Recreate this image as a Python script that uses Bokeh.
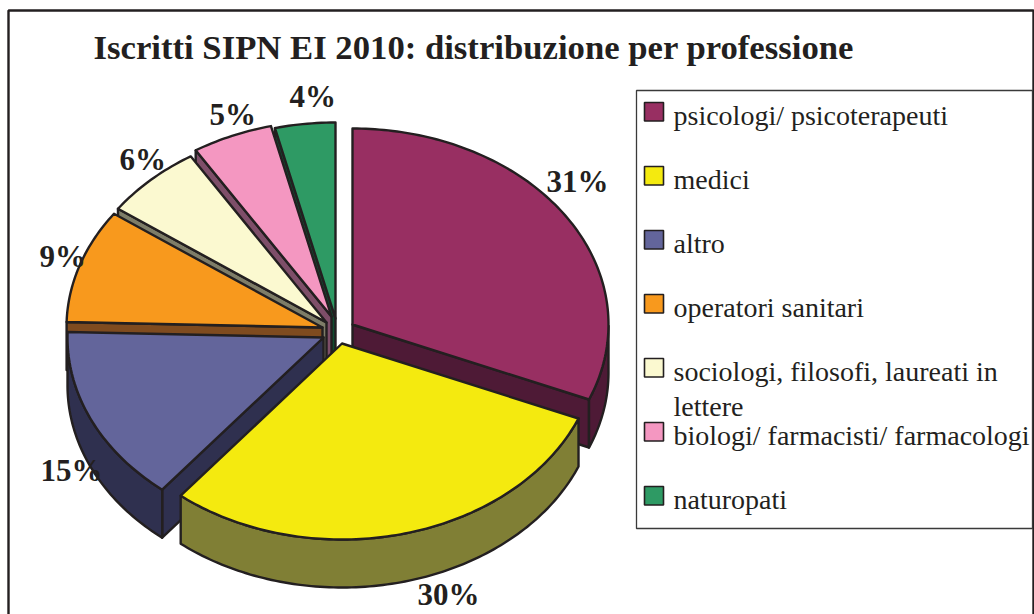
import math
from bokeh.plotting import figure
from bokeh.models import Range1d
from bokeh.core.properties import value
from bokeh.embed import file_html
from bokeh.resources import INLINE

TITLE = "Iscritti SIPN EI 2010: distribuzione per professione"
CATEGORIES = ["psicologi/ psicoterapeuti", "medici", "altro", "operatori sanitari",
              "sociologi, filosofi, laureati in\nlettere",
              "biologi/ farmacisti/ farmacologi", "naturopati"]
SHARES = [31.25, 29.6, 14.6, 9.4, 6.25, 5.1, 3.8]
LABELS = ["31%", "30%", "15%", "9%", "6%", "5%", "4%"]

# styles / layout
TOP = ["#982f62", "#f4ea0f", "#63659b", "#f8991d", "#fbf9d0", "#f497c1", "#2e9a64"]
WALL = ["#4e1a36", "#807f35", "#2f304f", "#7f4b1f", "#7e7d68", "#7e4e69", "#104d30"]
INK = "#231f20"
CX, CY = 336, 328
EXPLODE = [(16, -4), (5.5, 15), (-13, 9), (-14, -1), (-10, -6), (-5, -12), (-1, -10)]
RX, RY, DEPTH = 256, 196, 48
DRAW_ORDER = [6, 5, 4, 3, 2, 0, 1]
LABEL_POS = [(546, 191), (417, 604), (40, 480), (39, 266), (119, 169), (209, 124), (289, 106)]
TEXT_SHIFT = 0.33  # of the font size, for the text glyph's vertical placement

W, H = 1034, 614
p = figure(width=W, height=H, output_backend="svg", toolbar_location=None,
           x_range=Range1d(0, W), y_range=Range1d(H, 0),
           min_border=0, outline_line_color=None, background_fill_color="white",
           border_fill_color="white")
p.axis.visible = False
p.grid.visible = False

# frame and legend box
p.line([8, 8, 1033, 1033], [614, 10, 10, 614], line_color=INK, line_width=2.4)
p.quad(left=[636], right=[1032], top=[90], bottom=[528], fill_color="white",
       line_color="#3a3a3a", line_width=1.3)

# pie geometry from the shares
def pt(c, t, dy=0):
    r = math.radians(t)
    return c[0] + RX * math.sin(r), c[1] - RY * math.cos(r) + dy

angles, acc = [], 0.0
for v in SHARES:
    angles.append((acc, acc + v * 3.6))
    acc += v * 3.6

xs, ys, fills = [], [], []
def add(poly, col):
    xs.append([a for a, _ in poly]); ys.append([b for _, b in poly]); fills.append(col)

for i in DRAW_ORDER:
    a0, a1 = angles[i]
    c = (CX + EXPLODE[i][0], CY + EXPLODE[i][1])
    steps = max(2, int(a1 - a0))
    arc = [a0 + (a1 - a0) * k / steps for k in range(steps + 1)]
    mid = (a0 + a1) / 2
    mx, my = pt(c, mid)
    for a in (a0, a1):
        ex, ey = pt(c, a)
        if abs(ex - c[0]) > 1:
            yline = c[1] + (ey - c[1]) * (mx - c[0]) / (ex - c[0])
            if my < yline - 0.01:
                add([c, (ex, ey), (ex, ey + DEPTH), (c[0], c[1] + DEPTH)], WALL[i])
    front = [t for t in arc if math.cos(math.radians(t)) <= 0]
    if len(front) >= 2:
        upper = [pt(c, t) for t in front]
        lower = [pt(c, t, DEPTH) for t in reversed(front)]
        add(upper + lower, WALL[i])
    add([c] + [pt(c, t) for t in arc], TOP[i])

p.patches(xs, ys, fill_color=fills, line_color=INK, line_width=2.4, line_join="round")

# legend
rows = [102 + 64 * k for k in range(len(CATEGORIES))]
p.quad(left=[644] * 7, right=[663] * 7, top=rows, bottom=[r + 18.5 for r in rows],
       fill_color=TOP, line_color=INK, line_width=1.6)
tx, ty, tt = [], [], []
for r, name in zip(rows, CATEGORIES):
    for j, part in enumerate(name.split("\n")):
        tx.append(673); ty.append(r + 22 + 35 * j - 28 * TEXT_SHIFT); tt.append(part)
p.text(tx, ty, text=tt, text_font=value("Liberation Serif"), text_font_size="28px",
       text_color=INK, text_baseline="alphabetic", text_align="left")

# data labels
p.text([q[0] for q in LABEL_POS], [q[1] - 31 * TEXT_SHIFT for q in LABEL_POS],
       text=LABELS, text_font=value("Liberation Serif"),
       text_font_style="bold", text_font_size="31px", text_color=INK,
       text_baseline="alphabetic", text_align="left")

# title
p.text([93], [58 - 34.7 * TEXT_SHIFT], text=[TITLE], text_font=value("Liberation Serif"),
       text_font_style="bold", text_font_size="34.7px", text_color=INK,
       text_baseline="alphabetic", text_align="left")

open("out.html", "w").write(file_html(p, INLINE))
